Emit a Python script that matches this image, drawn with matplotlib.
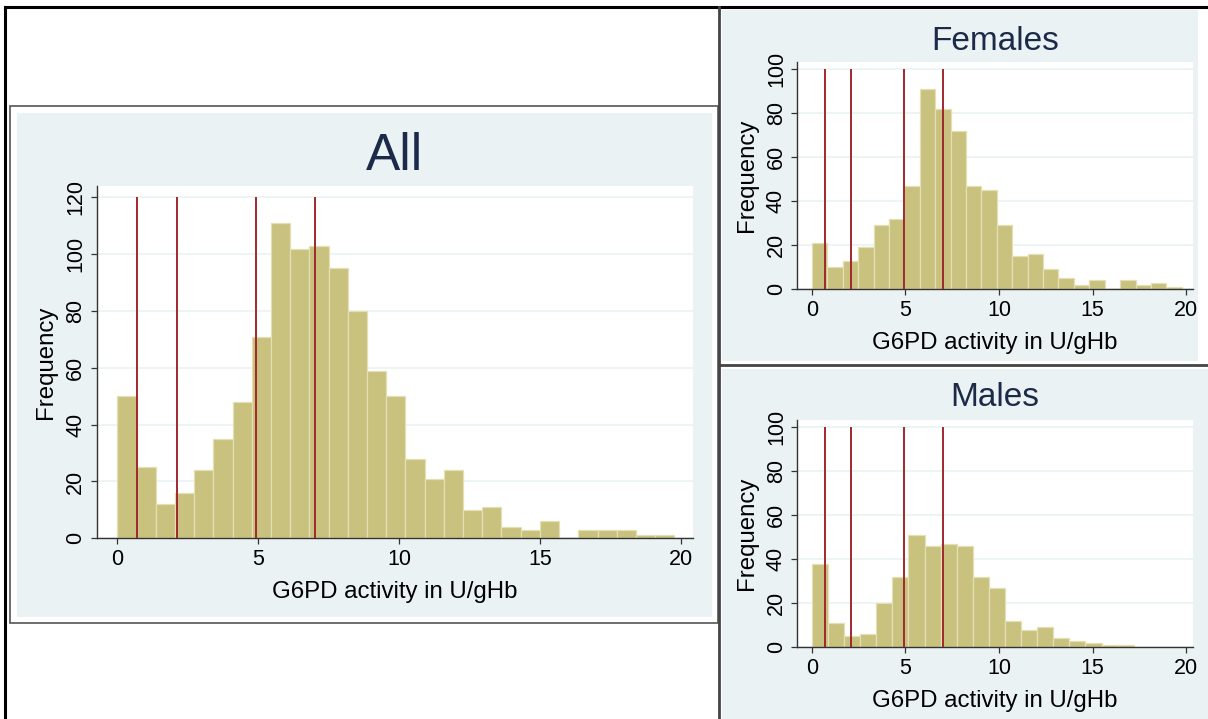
import numpy as np
import matplotlib
matplotlib.use("Agg")
import matplotlib.pyplot as plt
from matplotlib.patches import Rectangle
from matplotlib.lines import Line2D

# ---------------- data ----------------
all_counts = [50, 25, 12, 16, 24, 35, 48, 71, 111, 102, 103, 95, 80, 59, 50,
              28, 21, 24, 10, 11, 4, 3, 6, 0, 3, 3, 3, 1, 1]
all_bin_start, all_bin_end = 0.0, 19.75

female_counts = [21, 10, 13, 19, 29, 32, 47, 91, 82, 72, 47, 45, 29, 15, 16,
                 9, 5, 2, 4, 0, 4, 2, 3, 1]
female_bin_start, female_bin_end = 0.0, 19.77

male_counts = [38, 11, 5, 6, 20, 32, 51, 46, 47, 46, 32, 27, 12, 8, 9,
               4, 3, 2, 1, 1]
male_bin_start, male_bin_end = 0.0, 17.2

cut_points = [0.7, 2.1, 4.9, 7.0]

titles = ["All", "Females", "Males"]
xlabel = "G6PD activity in U/gHb"
ylabel = "Frequency"
x_ticks = [0, 5, 10, 15, 20]
all_y_ticks = [0, 20, 40, 60, 80, 100, 120]
side_y_ticks = [0, 20, 40, 60, 80, 100]

# ---------------- style ----------------
W, H = 1208, 719
plt.rcParams['font.family'] = ['Liberation Sans', 'DejaVu Sans']
BG = '#eaf2f3'
BAR = '#c9c17e'
BAR_EDGE = '#e4e0b4'
RED = '#a0282e'
AXC = '#333333'

fig = plt.figure(figsize=(W / 100, H / 100), dpi=100)
fig.patch.set_facecolor('white')


def fx(x):
    return x / W


def fy(y):
    return 1 - y / H


def rect(l, t, r, b, fc='none', ec='none', lw=0, z=-10):
    p = Rectangle((fx(l), fy(b)), fx(r) - fx(l), fy(t) - fy(b),
                  transform=fig.transFigure, facecolor=fc, edgecolor=ec,
                  linewidth=lw, zorder=z)
    fig.add_artist(p)


def line(x0, y0, x1, y1, c='black', lw=1.0, z=-5):
    fig.add_artist(Line2D([fx(x0), fx(x1)], [fy(y0), fy(y1)],
                          transform=fig.transFigure, color=c, lw=lw, zorder=z))


# panel backgrounds
rect(10, 106, 718, 623, fc='white', ec='#555555', lw=1.2, z=-12)
rect(17, 113, 712, 617, fc=BG, z=-11)
rect(722, 10, 1198, 361, fc=BG, z=-11)
rect(722, 369, 1208, 719, fc=BG, z=-11)

# outer borders / dividers
line(5, 7, 1208, 7, c='black', lw=2.2)
line(5, 7, 5, 719, c='black', lw=2.2)
line(719, 7, 719, 719, c='#444444', lw=2.0)
line(719, 365, 1208, 365, c='#444444', lw=2.0)


def add_axes_px(l, t, r, b):
    return fig.add_axes([fx(l), fy(b), fx(r) - fx(l), fy(t) - fy(b)])


def hist_panel(ax, counts, start, end, yticks, ylim_top, line_top, xlim):
    n = len(counts)
    edges = np.linspace(start, end, n + 1)
    ax.bar(edges[:-1], counts, width=np.diff(edges), align='edge',
           color=BAR, edgecolor=BAR_EDGE, linewidth=0.9, zorder=2)
    ax.vlines(cut_points, 0, line_top, colors=RED, linewidth=1.4, zorder=3)
    ax.set_xlim(*xlim)
    ax.set_ylim(0, ylim_top)
    ax.set_xticks(x_ticks)
    ax.set_yticks(yticks)
    ax.set_facecolor('white')
    ax.grid(axis='y', color=BG, linewidth=1.2, zorder=0)
    ax.set_axisbelow(True)
    for s in ['top', 'right']:
        ax.spines[s].set_visible(False)
    for s in ['left', 'bottom']:
        ax.spines[s].set_color(AXC)
        ax.spines[s].set_linewidth(1.0)
    ax.tick_params(axis='both', direction='out', length=4.5, width=0.9,
                   color=AXC, labelsize=15.5, pad=3, labelcolor='black')
    ax.tick_params(axis='y', labelrotation=90)
    for t in ax.get_yticklabels():
        t.set_va('center')
    ax.set_xlabel(xlabel, fontsize=17.3, labelpad=8)
    ax.set_ylabel(ylabel, fontsize=17.3, labelpad=6)


ax_all = add_axes_px(96.7, 186, 692.7, 538.3)
hist_panel(ax_all, all_counts, all_bin_start, all_bin_end, all_y_ticks,
           124, 120, (-0.73, 20.40))

ax_f = add_axes_px(797.3, 62, 1193, 289.3)
hist_panel(ax_f, female_counts, female_bin_start, female_bin_end,
           side_y_ticks, 103.3, 100, (-0.78, 20.37))

ax_m = add_axes_px(797.3, 420, 1193, 647.3)
hist_panel(ax_m, male_counts, male_bin_start, male_bin_end,
           side_y_ticks, 103.3, 100, (-0.78, 20.37))

TITLE_C = '#1c2a4a'
fig.text(fx(394.7), fy(156), titles[0], fontsize=37, color=TITLE_C,
         ha='center', va='center')
fig.text(fx(995), fy(42), titles[1], fontsize=24, color=TITLE_C,
         ha='center', va='center')
fig.text(fx(995), fy(398), titles[2], fontsize=24, color=TITLE_C,
         ha='center', va='center')

fig.savefig('out.png', dpi=100)
